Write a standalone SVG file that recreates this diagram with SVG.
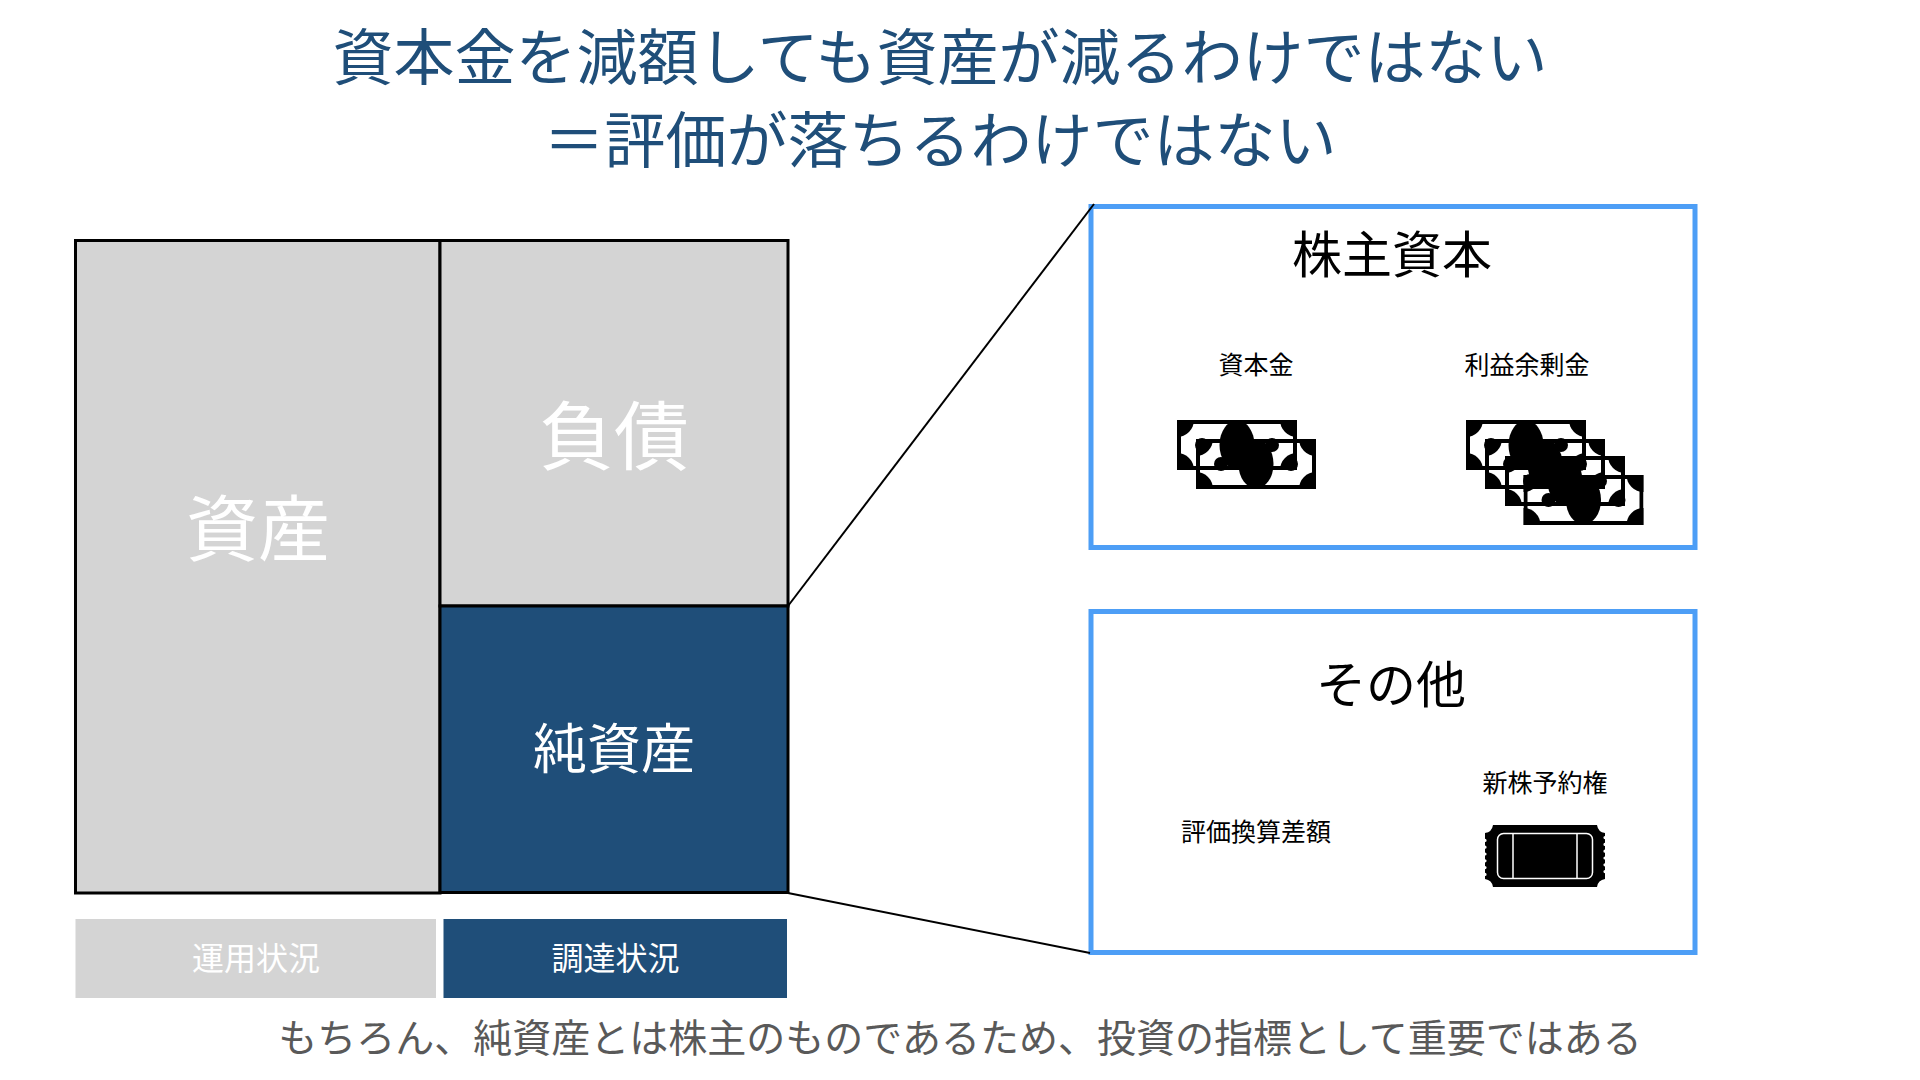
<svg xmlns="http://www.w3.org/2000/svg" width="1920" height="1080" viewBox="0 0 1920 1080">
<style>
text{font-family:"Noto Sans CJK JP","Noto Sans CJK SC",sans-serif;text-anchor:middle}
.title{font-size:61px;fill:#1f4e79}
.box{stroke:#000;stroke-width:3;fill:#d4d4d4}
.panel{fill:#fff;stroke:#4d9ef6;stroke-width:5}
.w{fill:#fff}
.lab{font-size:25px;fill:#000}
.head{font-size:50px;fill:#000}
.link{stroke:#000;stroke-width:2;fill:none}
</style>
<defs>
<clipPath id="billClip"><rect width="120" height="50"/></clipPath>
<g id="bill" clip-path="url(#billClip)">
<path fill-rule="evenodd" d="M0,0H120V50H0ZM4,4V46H116V4Z"/>
<circle cx="0" cy="0" r="17"/><circle cx="120" cy="0" r="17"/><circle cx="0" cy="50" r="17"/><circle cx="120" cy="50" r="17"/>
<ellipse cx="60" cy="25" rx="17.500" ry="24.500"/>
<circle cx="25" cy="25" r="7"/><circle cx="95" cy="25" r="7"/>
</g>
</defs>
<rect width="1920" height="1080" fill="#fff"/>
<g id="title">
<text class="title" x="940" y="80">資本金を減額しても資産が減るわけではない</text>
<text class="title" x="940" y="163">＝評価が落ちるわけではない</text>
</g>
<g id="assets"><rect class="box" x="75.500" y="240.500" width="364.500" height="652.500"/><text class="w" x="258" y="555" font-size="72">資産</text></g>
<g id="liabilities"><rect class="box" x="440" y="240.500" width="348" height="365.500"/><text class="w" x="614" y="464" font-size="75">負債</text></g>
<g id="net-assets"><rect class="box" style="fill:#1f4e79" x="440" y="606" width="348" height="286.500"/><text class="w" x="614" y="769" font-size="54">純資産</text></g>
<g id="use-label"><rect x="75.500" y="919" width="360.500" height="79" fill="#d4d4d4"/><text class="w" x="256" y="970" font-size="32">運用状況</text></g>
<g id="source-label"><rect x="443.500" y="919" width="343.500" height="79" fill="#1f4e79"/><text class="w" x="615.500" y="970" font-size="32">調達状況</text></g>
<g id="equity-panel">
<rect class="panel" x="1091" y="206.500" width="604" height="341"/>
<text class="head" x="1392" y="273">株主資本</text>
<text class="lab" x="1256" y="374">資本金</text>
<text class="lab" x="1527" y="374">利益余剰金</text>
<use href="#bill" x="1177" y="420"/><use href="#bill" x="1196" y="439"/>
<use href="#bill" x="1466" y="420"/><use href="#bill" x="1485" y="439"/><use href="#bill" x="1505" y="456"/><use href="#bill" x="1523.500" y="475"/>
</g>
<g id="other-panel">
<rect class="panel" x="1091" y="611.500" width="604" height="341"/>
<text class="head" x="1391" y="703">その他</text>
<text class="lab" x="1256" y="841">評価換算差額</text>
<text class="lab" x="1545" y="792">新株予約権</text>
<g id="ticket" transform="translate(1485 825)">
<path d="M8,0H112Q113,7 120,8V11a1.600,1.600 0 0 0 0,3.200v3.600a1.600,1.600 0 0 0 0,3.200v3.600a1.600,1.600 0 0 0 0,3.200v3.600a1.600,1.600 0 0 0 0,3.200v3.600a1.600,1.600 0 0 0 0,3.200v3.600a1.600,1.600 0 0 0 0,3.200V54Q113,55 112,62H8Q7,55 0,54V51a1.600,1.600 0 0 0 0,-3.200v-3.600a1.600,1.600 0 0 0 0,-3.200v-3.600a1.600,1.600 0 0 0 0,-3.200v-3.600a1.600,1.600 0 0 0 0,-3.200v-3.600a1.600,1.600 0 0 0 0,-3.200v-3.600a1.600,1.600 0 0 0 0,-3.200V8Q7,7 8,0Z"/>
<rect x="12.500" y="8.500" width="95" height="45" rx="6" fill="none" stroke="#fff" stroke-width="1.500"/>
<path d="M28,8.500V53.500M92,8.500V53.500" fill="none" stroke="#fff" stroke-width="1.500"/>
</g>
</g>
<g id="connectors">
<line class="link" x1="788" y1="606" x2="1094" y2="204"/>
<line class="link" x1="788" y1="893" x2="1090" y2="953"/>
</g>
<text x="960" y="1052" font-size="39" fill="#595959">もちろん、純資産とは株主のものであるため、投資の指標として重要ではある</text>
</svg>
